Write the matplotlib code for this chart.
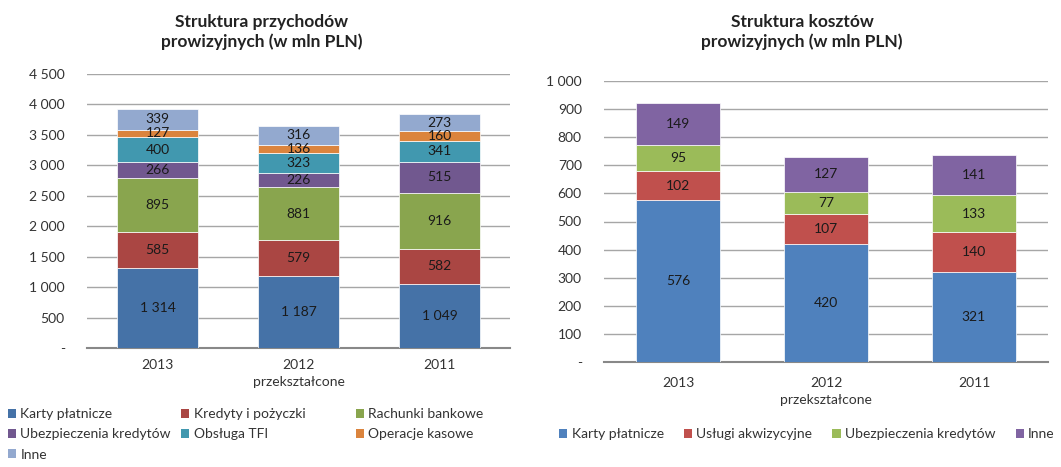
import matplotlib
matplotlib.use("Agg")
import matplotlib.pyplot as plt
from matplotlib.patches import Patch
import numpy as np

plt.rcParams['font.family'] = ['Lato', 'DejaVu Sans']

W, H = 1061, 467

# ---------------- data ----------------
years = ["2013", "2012\nprzekształcone", "2011"]

inc_series = ["Karty płatnicze", "Kredyty i pożyczki", "Rachunki bankowe",
              "Ubezpieczenia kredytów", "Obsługa TFI", "Operacje kasowe", "Inne"]
inc_karty = [1314, 1187, 1049]
inc_kredyty = [585, 579, 582]
inc_rachunki = [895, 881, 916]
inc_ubezp = [266, 226, 515]
inc_tfi = [400, 323, 341]
inc_kasowe = [127, 136, 160]
inc_inne = [339, 316, 273]
inc_colors = ["#4572a7", "#aa4643", "#89a54e", "#71588f", "#4198af", "#db843d", "#93a9cf"]

cost_series = ["Karty płatnicze", "Usługi akwizycyjne", "Ubezpieczenia kredytów", "Inne"]
cost_karty = [576, 420, 321]
cost_akwiz = [102, 107, 140]
cost_ubezp = [95, 77, 133]
cost_inne = [149, 127, 141]
cost_colors = ["#4f81bd", "#c0504d", "#9bbb59", "#8064a2"]

inc_ticks = [0, 500, 1000, 1500, 2000, 2500, 3000, 3500, 4000, 4500]
cost_ticks = [0, 100, 200, 300, 400, 500, 600, 700, 800, 900, 1000]


def fmt(v):
    if v == 0:
        return "-"
    return f"{v:,}".replace(",", " ")


fig = plt.figure(figsize=(W / 100, H / 100), dpi=100)


def px_axes(x0, x1, ytop, ybot):
    return fig.add_axes([x0 / W, (H - ybot) / H, (x1 - x0) / W, (ybot - ytop) / H])


def draw(ax, stacks, colors, ticks, ymax, width, xpad):
    x = np.arange(len(years))
    bottom = np.zeros(len(years))
    for vals, c in zip(stacks, colors):
        vals = np.array(vals, dtype=float)
        ax.bar(x, vals, width, bottom=bottom, color=c, edgecolor="white",
               linewidth=0.5, zorder=3)
        for xi, b, v in zip(x, bottom, vals):
            ax.text(xi, b + v / 2, fmt(int(v)), ha="center", va="center",
                    fontsize=10, color="#1a1a1a", zorder=4)
        bottom += vals
    ax.set_xlim(-0.5, len(years) - 0.5)
    ax.set_ylim(0, ymax)
    ax.set_yticks(ticks)
    ax.set_yticklabels([fmt(t) for t in ticks], fontsize=10, color="#333333")
    ax.set_xticks(x)
    ax.set_xticklabels(years, fontsize=10, color="#333333", linespacing=1.45)
    ax.tick_params(axis="x", length=0, pad=xpad)
    ax.tick_params(axis="y", length=0, pad=16)
    ax.grid(axis="y", color="#a6a6a6", linewidth=1.0, zorder=0)
    for s in ["top", "right", "left"]:
        ax.spines[s].set_visible(False)
    ax.spines["bottom"].set_color("#888888")
    ax.spines["bottom"].set_linewidth(1.5)


ax1 = px_axes(87, 510, 74, 348)
draw(ax1, [inc_karty, inc_kredyty, inc_rachunki, inc_ubezp, inc_tfi, inc_kasowe, inc_inne],
     inc_colors, inc_ticks, 4500, 0.57, 8)

ax2 = px_axes(604, 1048, 81, 362)
draw(ax2, [cost_karty, cost_akwiz, cost_ubezp, cost_inne],
     cost_colors, cost_ticks, 1000, 0.57, 11)

fig.text(262 / W, 1 - 32 / H, "Struktura przychodów\nprowizyjnych (w mln PLN)",
         ha="center", va="center", fontsize=12.5, fontweight="bold",
         color="#222222", linespacing=1.3)
fig.text(802 / W, 1 - 32 / H, "Struktura kosztów\nprowizyjnych (w mln PLN)",
         ha="center", va="center", fontsize=12.5, fontweight="bold",
         color="#222222", linespacing=1.3)

# left legend: three columns, row-wise order
leg_kw = dict(frameon=False, fontsize=10, handlelength=0.6, handleheight=0.6,
              handletextpad=0.3, labelspacing=0.6, borderpad=0, borderaxespad=0,
              labelcolor="#333333")
cols = [[0, 3, 6], [1, 4], [2, 5]]
col_x = [8, 181, 356]
for idxs, cx in zip(cols, col_x):
    handles = [Patch(facecolor=inc_colors[i]) for i in idxs]
    labels = [inc_series[i] for i in idxs]
    fig.legend(handles, labels, loc="upper left",
               bbox_to_anchor=(cx / W, 1 - 408 / H), **leg_kw)

handles = [Patch(facecolor=c) for c in cost_colors]
fig.legend(handles, cost_series, loc="upper left", ncol=4,
           bbox_to_anchor=(559 / W, 1 - 428 / H), columnspacing=1.45, **leg_kw)

fig.savefig("out.png", dpi=100, facecolor="white")
